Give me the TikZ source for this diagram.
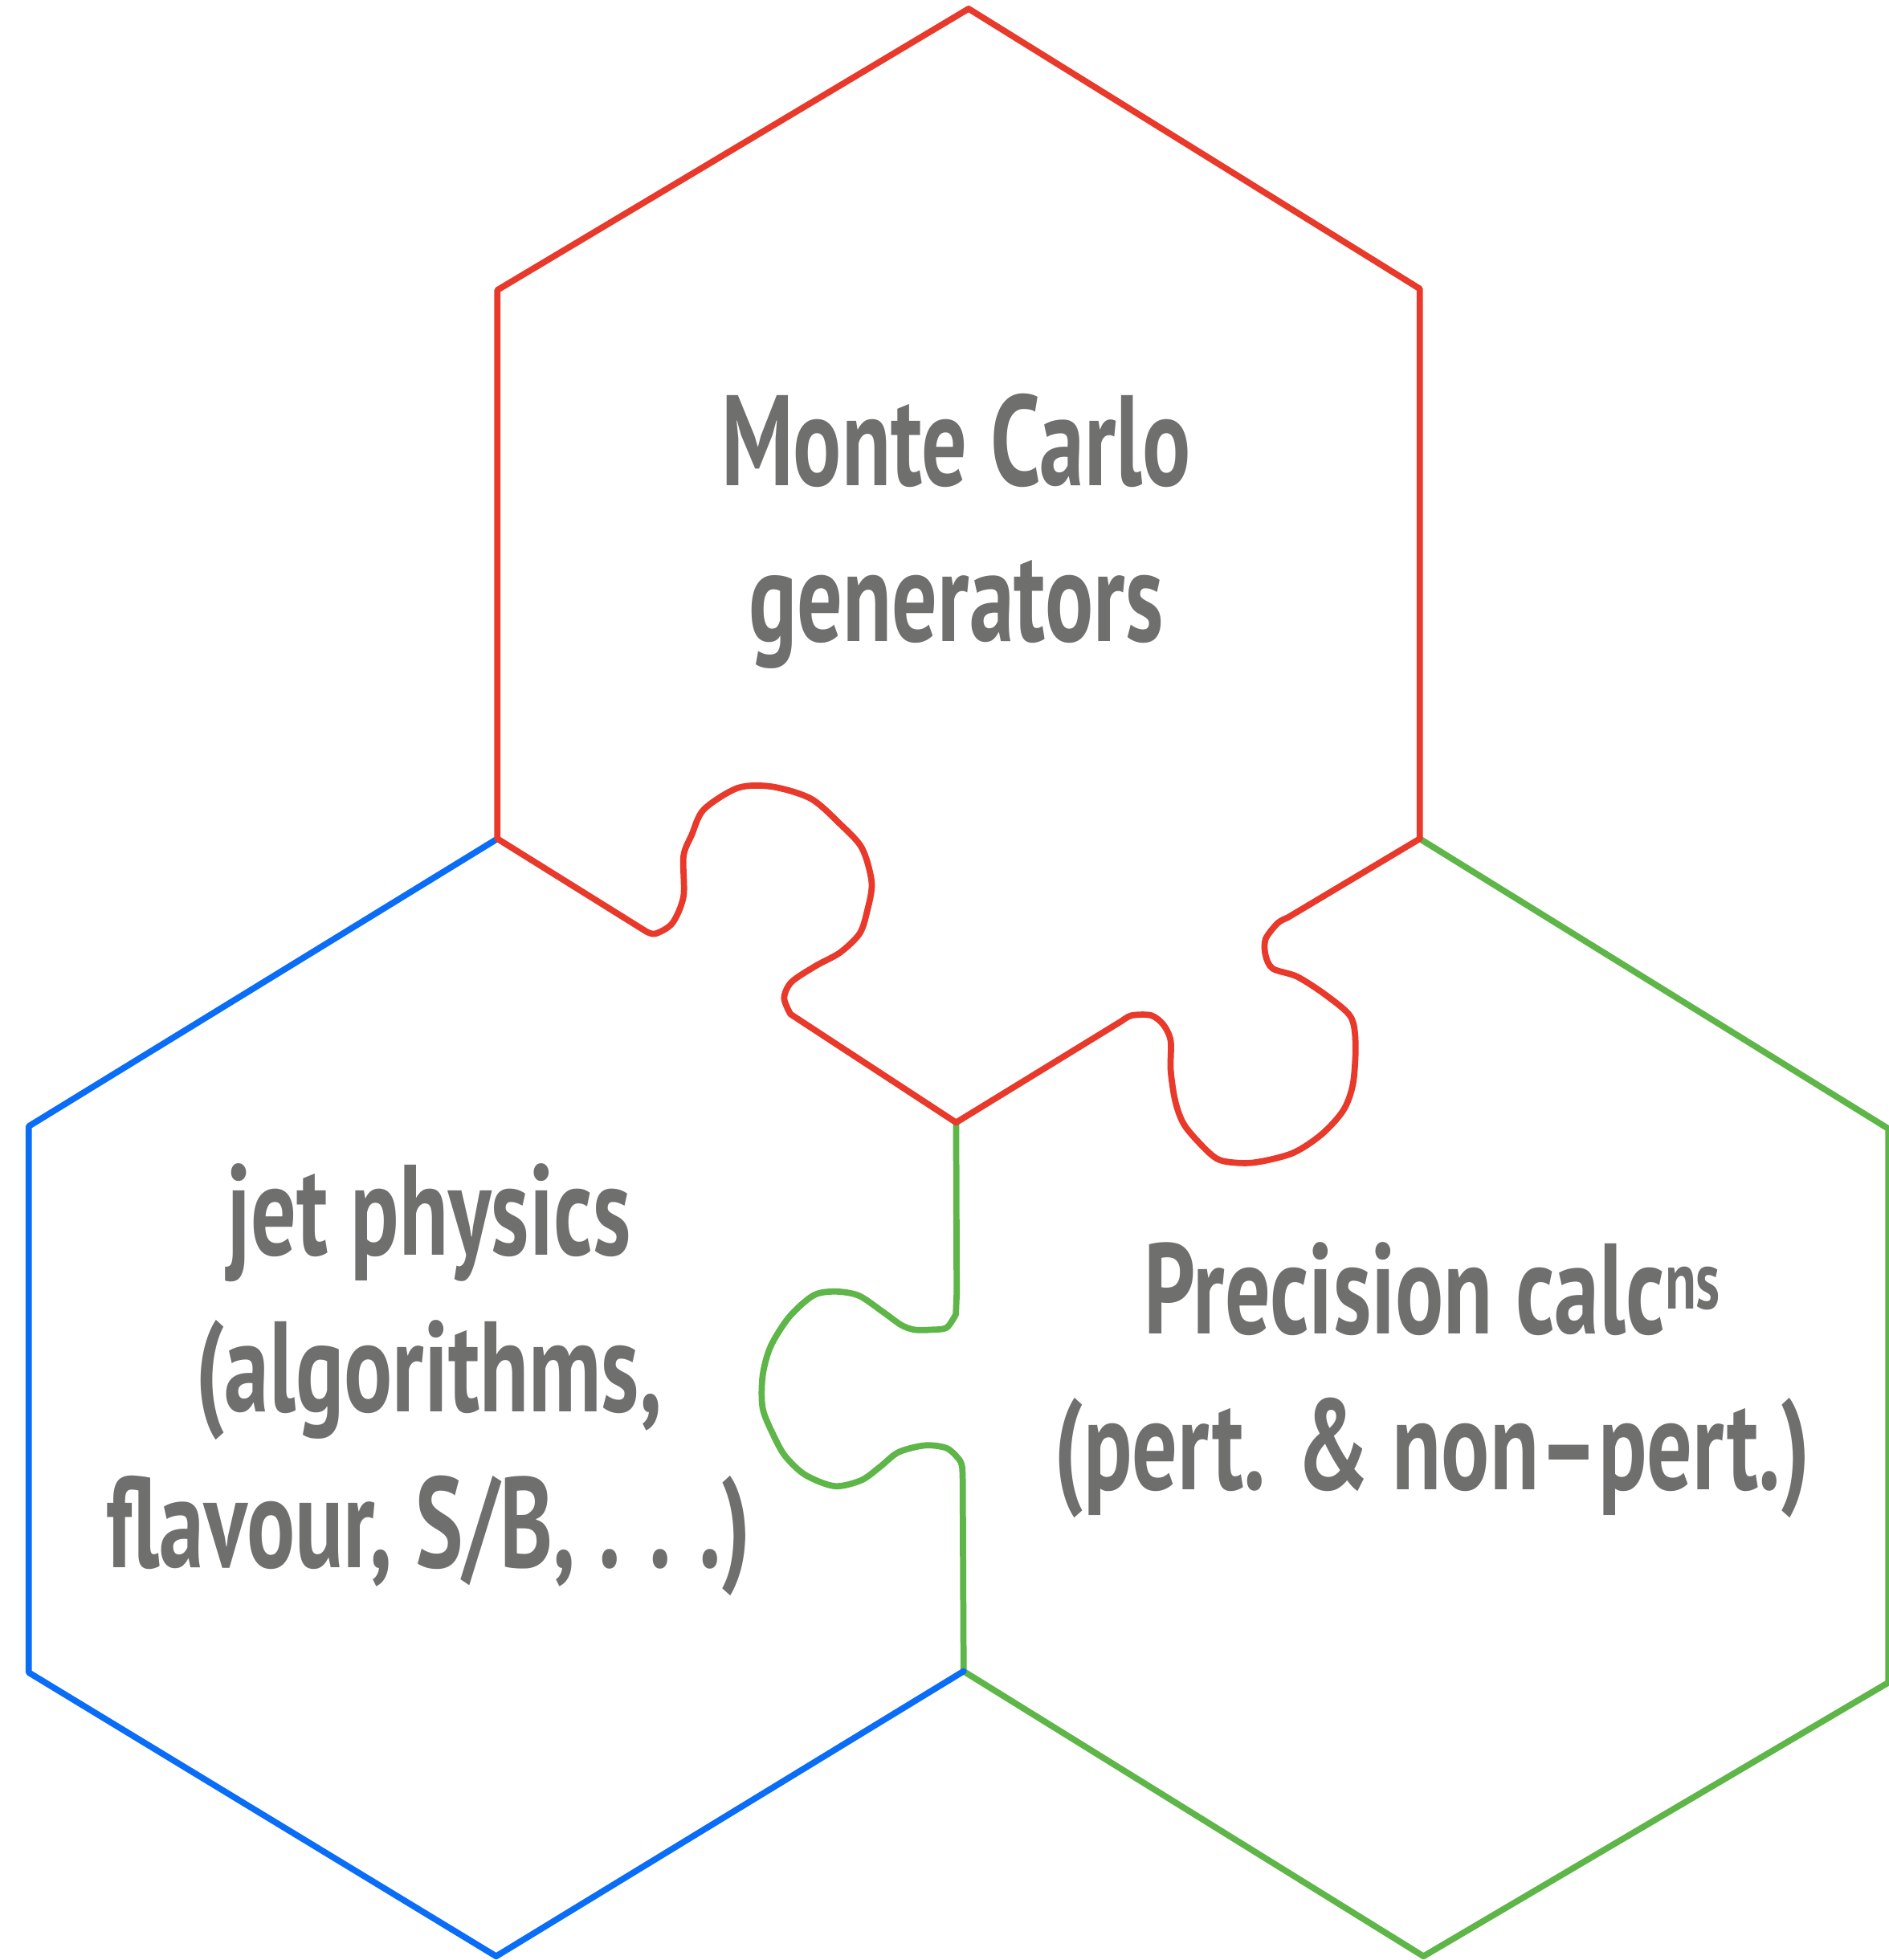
\documentclass[tikz,border=0pt]{standalone}
\usepackage{fontspec}
\usepackage{xcolor}
\newfontfamily\hexfont{PT Sans}[FakeStretch=0.70]
\definecolor{mcred}{HTML}{E8392A}
\definecolor{jetblue}{HTML}{0A6DF7}
\definecolor{pcgreen}{HTML}{5DB647}
\definecolor{txtgray}{HTML}{6F706E}

\begin{document}
\begin{tikzpicture}[x=0.015566cm, y=-0.015566cm,
    edge/.style={line width=2.2pt, line join=round, line cap=round},
    boxtext/.style={text=txtgray, align=center, inner sep=0pt,
        font=\hexfont\bfseries\fontsize{45.6}{55.3}\selectfont}]
    \useasboundingbox (0,0) rectangle (1511,1568);

    % 上方六边形的顶点
    \coordinate (T) at (775,7);
    \coordinate (TL) at (398,232);
    \coordinate (TR) at (1136,231);
    \coordinate (L) at (398,671);
    \coordinate (R) at (1136,671);
    \coordinate (O) at (765,898);

    % 左下与右下六边形的顶点
    \coordinate (BL1) at (23,901);
    \coordinate (BL2) at (23,1338);
    \coordinate (BB) at (397,1565);
    \coordinate (M) at (771,1337);
    \coordinate (GR1) at (1511,903);
    \coordinate (GR2) at (1511,1346);
    \coordinate (GB) at (1139,1565);

    % 绿色: 拼图凸块与右下边
    \draw[edge, pcgreen] (O) -- (765.5,1034.3) -- plot[smooth] coordinates {
        (764.8,1051.4) (757.4,1062.1) (744.6,1063.8) (731.8,1063.8) (721.1,1060)
        (706.2,1049.3) (687,1036.4) (667.8,1033.2) (650.7,1036.4) (631.5,1053.5)
        (616.6,1077.1) (610.2,1100.7) (610.2,1126.4) (618.7,1147.8) (628.3,1164.9)
        (644.3,1179.9) (667.8,1188.9) (689.1,1184.2) (704.1,1173.5) (719,1161.7)
        (740.3,1156.3) (757.4,1158.5) (767,1167) (769.8,1173.5) (770.3,1186.3)}
        -- (M) -- (GB) -- (GR2) -- (GR1) -- (R);

    % 蓝色
    \draw[edge, jetblue] (L) -- (BL1) -- (BL2) -- (BB) -- (M);

    % 红色: 上方六边形与两个凸块
    \draw[edge, mcred] (L) -- (TL) -- (T) -- (TR) -- (R) -- plot[smooth] coordinates {
        (1030.1,734.2) (1022.3,738.5) (1012.6,751.3) (1012.6,764.2) (1018.4,774.9)
        (1037.9,781.3) (1061.2,796.3) (1080.7,813.4) (1084.6,834.8) (1082.6,866.9)
        (1074.8,888.3) (1057.3,907.6) (1034,922.6) (1002.9,930.1) (979.5,929)
        (967.9,922.6) (948.4,901.2) (940.6,881.9) (936.7,856.2) (936.7,832.7)
        (930.9,819.8) (921.1,812.3) (905.6,812.3) (897.8,816.6)}
        -- (O) -- plot[smooth] coordinates {
        (632.5,811.3) (627.4,798.4) (633.3,785.6) (652.7,772.7) (672.2,762)
        (687.7,747) (693.6,729.9) (697.5,706.3) (689.7,678.5) (672.2,659.2)
        (648.8,638.9) (617.7,629.3) (590.5,630.3) (563.2,647.5) (553.5,667.8)
        (546.9,684.9) (546.9,717) (538,738.5) (524.3,747) (516.6,744.9)}
        -- cycle;

    % 文字
    \node[boxtext] (mc) at (765,425) {Monte Carlo\\generators};
    \node[boxtext] (jet) at (343,1104)
        {jet physics\\(algorithms,\\flavour, S/B, .\hspace{0.22em}.\hspace{0.22em}.)};
    \node[boxtext] (pc) at (1146,1104)
        {Precision calc\raisebox{8.8pt}{\fontsize{29}{29}\selectfont ns}\\(pert. \& non\textendash pert.)};

\end{tikzpicture}
\end{document}
